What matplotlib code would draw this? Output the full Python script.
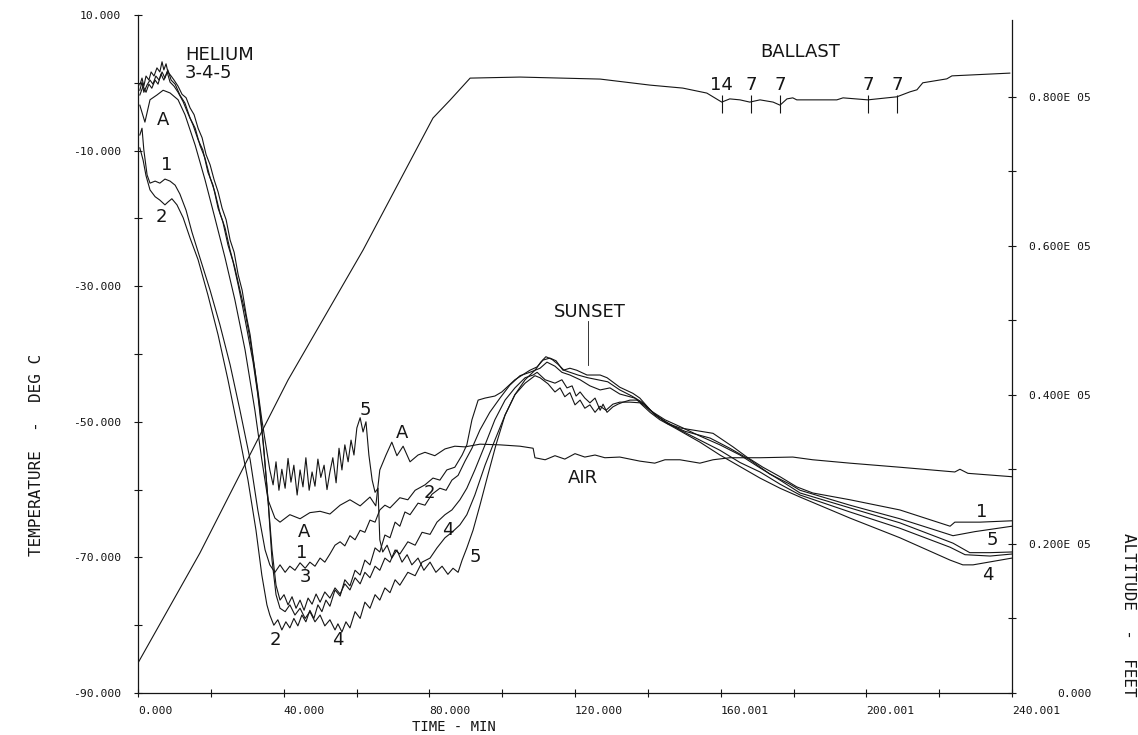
import numpy as np
import matplotlib.pyplot as plt
from matplotlib.transforms import ScaledTranslation

# (time min, altitude ft)
altitude = [(0.0, 4030), (17.0, 18790), (41.2, 42010), (61.8, 59450), (81.0, 77170),
            (85.7, 79580), (91.2, 82530), (104.9, 82670), (126.9, 82400), (140.6, 81590),
            (149.6, 81190), (156.2, 80520), (160.3, 79310), (162.5, 79740), (165.3, 79610),
            (168.0, 79310), (170.8, 79610), (174.4, 79310), (176.3, 78900), (178.2, 79740),
            (179.8, 79880), (180.9, 79610), (191.9, 79610), (193.6, 79880), (200.4, 79610),
            (208.4, 80020), (212.0, 80690), (213.9, 80960), (215.5, 81900), (222.1, 82430),
            (223.5, 82830), (239.4, 83200)]

# (time min, temperature deg C)
air = [(0.5, -3.3), (1.9, -5.8), (3.3, -2.5), (5.2, -1.8), (6.9, -1.1), (8.8, -1.5), (11.0, -2.5),
       (12.9, -4.7), (15.7, -9.2), (18.4, -14.3), (21.1, -19.9), (23.9, -25.8), (26.6, -32.0),
       (29.4, -39.4), (32.1, -48.3), (34.0, -55.6), (35.7, -61.5), (37.6, -64.2), (39.0, -64.8),
       (41.7, -63.7), (44.5, -64.3), (47.2, -63.4), (50.0, -63.2), (52.7, -63.6), (55.5, -62.3),
       (58.2, -61.5), (61.0, -62.4), (63.7, -61.1), (65.3, -62.4), (66.4, -57.1), (68.1, -54.9),
       (69.7, -53.0), (71.1, -55.0), (72.8, -53.6), (74.7, -55.9), (76.9, -54.9), (78.8, -54.5),
       (81.5, -55.0), (84.3, -54.0), (87.0, -53.6), (89.8, -53.7), (93.9, -53.3), (99.4, -53.4),
       (104.9, -53.6), (108.5, -53.9), (109.0, -55.3), (111.8, -55.6), (114.5, -55.0),
       (117.2, -55.5), (120.0, -54.7), (122.7, -55.2), (125.5, -54.9), (128.2, -55.3),
       (132.3, -55.2), (137.8, -55.8), (141.9, -56.1), (144.7, -55.6), (148.8, -55.6),
       (154.3, -56.1), (157.9, -55.6), (162.5, -55.3), (170.8, -55.3), (179.8, -55.2),
       (185.3, -55.6), (195.5, -56.1), (209.2, -56.7), (224.3, -57.4), (225.7, -57.0),
       (227.9, -57.6), (240.0, -58.1)]

helium1 = [(0.5, -7.7), (1.1, -6.7), (1.6, -9.9), (2.5, -13.6), (3.3, -14.8), (4.7, -14.5),
           (6.0, -14.8), (7.4, -14.2), (8.8, -14.5), (10.2, -15.1), (11.5, -16.4), (13.2, -18.8),
           (14.8, -22.0), (17.0, -25.8), (19.8, -30.6), (22.5, -35.7), (25.3, -41.6), (28.0, -48.3),
           (30.8, -55.6), (32.9, -63.0), (34.9, -68.9), (36.2, -71.1), (37.6, -72.2), (39.0, -71.1),
           (40.4, -72.2), (41.7, -71.3), (43.1, -71.9), (44.5, -70.8), (45.9, -71.6), (47.2, -70.7),
           (48.6, -71.3), (50.0, -70.1), (51.3, -70.7), (52.7, -69.5), (54.1, -68.2), (55.5, -67.7),
           (56.8, -68.3), (58.2, -66.8), (59.6, -67.4), (61.0, -66.0), (62.3, -66.3), (63.7, -64.5),
           (65.1, -64.8), (66.4, -63.0), (67.8, -62.3), (69.2, -62.7), (71.9, -61.2), (74.1, -61.5),
           (76.1, -60.1), (78.8, -59.3), (81.0, -58.3), (82.9, -58.6), (84.8, -57.1), (87.0, -56.7),
           (89.0, -54.9), (90.3, -53.4), (91.7, -49.7), (93.4, -46.8), (95.3, -46.5), (98.0, -46.2),
           (99.9, -45.6), (103.5, -43.8), (107.6, -42.4), (109.6, -41.9), (111.2, -40.9),
           (113.1, -40.6), (114.8, -41.0), (116.7, -42.4), (118.6, -42.1), (120.5, -42.4),
           (123.3, -43.1), (126.9, -43.1), (128.8, -43.5), (132.3, -44.9), (135.9, -45.8),
           (137.8, -46.5), (141.4, -48.7), (145.2, -50.2), (148.8, -50.9), (157.9, -51.7),
           (163.4, -53.7), (167.2, -55.2), (171.6, -56.7), (176.3, -58.1), (180.9, -59.6),
           (185.3, -60.5), (195.5, -61.5), (209.2, -63.0), (223.0, -65.4), (224.3, -64.8),
           (231.2, -64.8), (240.0, -64.6)]

helium2 = [(0.5, -9.6), (1.4, -11.4), (2.2, -13.7), (3.3, -15.8), (4.7, -16.8), (6.0, -17.3),
           (7.4, -18.0), (8.2, -17.6), (9.3, -17.1), (10.7, -18.0), (12.4, -19.9), (14.3, -22.9),
           (16.5, -26.1), (19.2, -31.3), (22.0, -37.2), (24.7, -43.8), (27.5, -51.2), (30.2, -58.6),
           (32.4, -66.0), (34.0, -72.6), (35.4, -77.0), (36.2, -78.5), (37.3, -80.0), (38.4, -79.2),
           (39.5, -80.7), (40.6, -79.5), (41.7, -80.4), (42.8, -79.0), (43.9, -80.1), (45.0, -78.5),
           (46.1, -79.5), (47.2, -77.8), (48.3, -79.0), (49.4, -77.0), (50.5, -78.0), (51.6, -76.3),
           (52.7, -77.2), (54.1, -74.8), (55.5, -75.7), (56.8, -73.3), (58.2, -74.2), (59.6, -71.9),
           (61.0, -72.6), (62.3, -70.4), (63.7, -71.1), (65.1, -68.6), (66.4, -69.2), (67.8, -66.7),
           (69.2, -67.1), (70.6, -64.8), (71.9, -65.4), (73.3, -63.3), (74.7, -63.7), (76.9, -62.0),
           (78.8, -62.3), (80.7, -60.7), (82.9, -59.8), (84.6, -60.1), (86.2, -58.6), (87.9, -57.9),
           (89.8, -55.8), (91.7, -53.9), (93.9, -51.2), (96.6, -48.6), (99.4, -46.5), (102.1, -44.6),
           (104.9, -43.2), (107.6, -42.7), (110.4, -42.1), (112.3, -41.2), (114.5, -41.8),
           (116.4, -42.7), (118.6, -43.1), (121.4, -43.8), (124.1, -44.7), (126.9, -45.3),
           (129.6, -45.0), (132.3, -45.9), (136.4, -46.5), (140.6, -48.3), (144.7, -49.7),
           (148.8, -50.7), (154.3, -52.1), (159.8, -53.4), (165.3, -54.9), (170.8, -56.8),
           (176.3, -58.6), (181.8, -60.5), (195.5, -62.7), (209.2, -64.9), (223.8, -67.9),
           (228.4, -69.3), (234.0, -69.3), (240.0, -69.2)]

helium3 = [(0.5, -1.1), (1.1, 0.1), (1.6, -1.4), (2.5, -0.3), (3.3, 0.4), (4.1, -0.2), (4.9, 1.0),
           (5.8, 0.4), (6.6, 1.6), (7.4, 0.7), (8.2, 1.9), (9.1, 0.4), (10.2, -0.2), (11.5, -1.8),
           (12.9, -3.0), (14.3, -5.2), (15.7, -6.7), (17.0, -9.2), (18.4, -11.1), (19.8, -14.0),
           (21.1, -16.1), (22.5, -19.2), (23.9, -21.4), (25.3, -24.7), (26.6, -27.3), (28.0, -30.6),
           (29.4, -33.8), (30.8, -37.9), (32.1, -42.4), (33.5, -48.3), (34.6, -54.2), (35.7, -61.5),
           (36.8, -68.9), (37.9, -74.1), (39.0, -76.3), (40.1, -75.5), (41.2, -77.0), (42.3, -75.8),
           (43.4, -77.5), (44.5, -76.3), (45.6, -77.8), (46.7, -76.0), (47.8, -76.9), (48.9, -75.4),
           (50.0, -76.6), (51.3, -75.1), (52.7, -76.0), (54.1, -74.5), (55.5, -75.4), (56.8, -73.9),
           (58.2, -74.8), (59.6, -73.0), (61.0, -73.9), (62.3, -72.2), (63.7, -73.0), (65.1, -71.3),
           (66.4, -71.9), (67.8, -70.1), (69.2, -70.7), (70.6, -68.9), (71.9, -69.5), (74.1, -67.7),
           (76.1, -68.2), (78.0, -66.3), (80.2, -66.6), (82.1, -64.8), (84.3, -63.7), (86.2, -63.0),
           (88.4, -61.5), (90.3, -59.8), (92.5, -57.1), (95.3, -53.4), (98.0, -49.7), (100.8, -46.8),
           (103.5, -45.0), (106.3, -43.5), (108.5, -43.1), (109.6, -42.7), (111.8, -43.8),
           (114.5, -44.3), (116.4, -43.8), (117.8, -45.0), (119.2, -44.7), (120.3, -46.2),
           (121.4, -45.6), (122.7, -46.5), (124.1, -47.2), (125.5, -46.5), (126.9, -48.3),
           (127.7, -47.4), (128.8, -48.6), (130.4, -47.8), (131.8, -47.4), (133.2, -47.1),
           (135.1, -46.8), (137.0, -46.8), (139.2, -47.5), (142.0, -49.0), (144.7, -49.9),
           (148.8, -51.2), (154.3, -52.7), (159.8, -54.2), (165.3, -56.0), (170.8, -57.4),
           (176.3, -59.2), (181.8, -60.8), (195.5, -63.3), (209.2, -65.7), (223.0, -68.5),
           (227.1, -69.6), (234.0, -69.8), (240.0, -69.5)]

helium4 = [(0.5, -1.8), (1.4, -0.5), (2.2, -1.4), (3.0, -0.2), (3.8, -0.8), (4.7, 0.4), (5.5, -0.2),
           (6.3, 1.3), (7.1, 0.4), (8.0, 1.6), (8.8, 0.1), (9.9, -0.5), (11.0, -1.4), (12.4, -2.8),
           (13.7, -4.5), (15.1, -6.2), (16.5, -8.4), (17.8, -9.9), (19.2, -13.2), (20.6, -15.1),
           (22.0, -18.5), (23.3, -20.5), (24.7, -23.9), (26.1, -26.4), (27.5, -29.8), (28.8, -33.2),
           (30.2, -37.2), (31.6, -41.2), (32.9, -46.0), (34.3, -52.7), (35.7, -61.5), (36.8, -70.4),
           (37.9, -75.5), (39.0, -77.5), (40.4, -78.0), (41.7, -77.0), (43.1, -78.5), (44.5, -77.5),
           (45.9, -79.0), (47.2, -78.0), (48.6, -79.5), (50.0, -78.5), (51.3, -80.1), (52.7, -79.2),
           (54.1, -80.7), (54.9, -79.8), (56.0, -81.0), (57.1, -79.5), (58.2, -80.4), (59.6, -78.0),
           (61.0, -79.0), (62.3, -76.6), (63.7, -77.5), (65.1, -75.5), (66.4, -76.3), (67.8, -74.5),
           (69.2, -75.2), (70.6, -73.3), (71.9, -74.1), (74.1, -72.2), (76.1, -72.7), (78.0, -70.7),
           (80.2, -70.1), (82.1, -68.6), (84.3, -67.1), (86.2, -66.3), (88.4, -65.2), (90.3, -63.7),
           (92.5, -60.8), (95.3, -56.4), (98.0, -52.7), (100.8, -49.0), (103.5, -46.0),
           (106.3, -44.3), (109.0, -43.2), (110.4, -43.5), (112.6, -44.4), (114.5, -45.6),
           (115.9, -45.0), (117.2, -46.3), (118.6, -45.7), (120.0, -47.5), (121.4, -46.8),
           (122.7, -48.0), (124.1, -47.5), (125.5, -48.6), (126.9, -47.7), (128.5, -48.3),
           (130.4, -47.4), (132.3, -47.1), (135.1, -47.1), (137.8, -47.2), (140.6, -48.6),
           (143.3, -49.7), (147.4, -50.9), (154.3, -53.0), (159.8, -54.9), (165.3, -56.6),
           (170.8, -58.3), (176.3, -59.8), (181.8, -61.1), (195.5, -64.2), (209.2, -67.1),
           (223.0, -70.4), (226.5, -71.1), (229.3, -71.1), (240.0, -70.1)]

helium5 = [(0.5, -0.3), (1.1, 0.7), (1.6, -0.5), (2.2, 1.0), (3.0, 0.4), (3.6, 1.6), (4.4, 1.0),
           (5.2, 2.2), (6.0, 1.6), (6.6, 3.1), (7.1, 1.9), (7.7, 2.8), (8.2, 1.6), (9.1, 1.0),
           (9.9, 0.4), (11.0, -0.5), (12.1, -1.7), (13.2, -2.2), (14.3, -3.7), (15.4, -4.7),
           (16.5, -6.7), (17.6, -8.1), (18.7, -10.6), (19.8, -12.1), (20.9, -14.3), (22.0, -16.1),
           (23.1, -18.5), (24.2, -20.2), (25.3, -23.2), (26.4, -25.0), (27.5, -28.3), (28.6, -30.6),
           (29.7, -34.2), (30.8, -37.2), (31.9, -41.6), (32.9, -45.3), (34.0, -49.7), (35.1, -53.4),
           (36.2, -57.1), (37.1, -59.3), (37.9, -55.9), (38.7, -60.1), (39.5, -57.0), (40.4, -59.8),
           (41.2, -55.4), (42.0, -58.9), (42.8, -56.4), (43.7, -60.8), (44.5, -57.1), (45.3, -59.6),
           (46.1, -55.3), (47.0, -60.1), (47.8, -57.4), (48.6, -59.5), (49.4, -55.5), (50.2, -58.2),
           (51.1, -56.4), (51.9, -60.0), (52.7, -57.4), (53.5, -55.3), (54.4, -59.0), (55.2, -53.9),
           (56.0, -57.1), (56.8, -53.4), (57.7, -55.9), (58.5, -52.7), (59.3, -54.9), (60.1, -50.9),
           (61.0, -49.4), (61.8, -51.5), (62.6, -50.0), (63.4, -54.9), (64.3, -58.6), (65.1, -60.4),
           (65.9, -59.8), (66.4, -67.4), (67.2, -69.2), (68.4, -68.2), (69.7, -70.1), (71.1, -68.9),
           (72.5, -70.7), (73.9, -69.6), (75.2, -71.1), (76.9, -70.1), (78.5, -71.9), (80.2, -70.7),
           (81.8, -72.2), (83.5, -71.3), (85.1, -72.5), (86.5, -71.6), (87.9, -72.2), (89.0, -70.4),
           (90.3, -68.6), (92.0, -66.0), (93.9, -62.3), (96.1, -57.8), (98.3, -53.4), (100.8, -49.0),
           (103.5, -46.0), (106.3, -43.8), (109.0, -42.4), (110.6, -41.2), (112.0, -40.4),
           (113.7, -40.8), (115.3, -41.5), (117.0, -42.4), (118.6, -42.7), (120.8, -43.1),
           (123.5, -43.5), (126.3, -43.8), (129.0, -44.1), (132.3, -45.3), (135.6, -46.2),
           (138.4, -47.1), (142.0, -48.9), (145.5, -50.3), (150.2, -51.4), (157.1, -52.4),
           (162.5, -53.9), (168.0, -55.6), (173.5, -57.7), (179.0, -59.2), (181.8, -60.1),
           (195.5, -62.3), (209.2, -64.3), (223.8, -66.8), (229.8, -66.2), (240.0, -65.4)]

ballast_times = [160.3, 168.3, 176.3, 200.4, 208.4]
ballast_labels = ['14', '7', '7', '7', '7']

x_ticks = [0, 40, 80, 120, 160, 200, 240]
x_labels = ['0.000', '40.000', '80.000', '120.000', '160.001', '200.001', '240.001']
t_ticks = [10, -10, -30, -50, -70, -90]
t_labels = ['10.000', '-10.000', '-30.000', '-50.000', '-70.000', '-90.000']
h_ticks = [0, 20000, 40000, 60000, 80000]
h_labels = ['0.000', '0.200E 05', '0.400E 05', '0.600E 05', '0.800E 05']

ink = '#151515'
mono = 'DejaVu Sans Mono'

fig = plt.figure(figsize=(11.38, 7.35), dpi=100)
ax = fig.add_axes([138 / 1138, 42 / 735, 874 / 1138, 678 / 735])
ax2 = ax.twinx()

for series in [air, helium1, helium2, helium3, helium4, helium5]:
    t, temp = np.array(series).T
    ax.plot(t, temp, color=ink, lw=0.8)

t, h = np.array(altitude).T
ax2.plot(t, h, color=ink, lw=0.8)

ax.set_xlim(0, 240)
ax.set_ylim(-90, 10)
ax2.set_ylim(0, 91000)

for s in ['top', 'right']:
    ax.spines[s].set_visible(False)
for s in ['top', 'left', 'bottom']:
    ax2.spines[s].set_visible(False)
ax2.spines['right'].set_bounds(0, 90300)
for a in (ax, ax2):
    for s in a.spines.values():
        s.set_color(ink)
        s.set_linewidth(0.9)

# ticks
ax.set_xticks(np.arange(0, 241, 20))
ax.set_xticklabels([x_labels[x_ticks.index(v)] if v in x_ticks else '' for v in range(0, 241, 20)],
                   ha='left', family=mono, fontsize=8.2, color=ink)
off = ScaledTranslation(0.06, 0, fig.dpi_scale_trans)
for lbl in ax.get_xticklabels():
    lbl.set_transform(lbl.get_transform() + off)
ax.set_yticks(np.arange(-90, 11, 10))
ax.set_yticklabels([t_labels[t_ticks.index(v)] if v in t_ticks else '' for v in range(-90, 11, 10)],
                   family=mono, fontsize=8.2, color=ink)
ax2.set_yticks(np.arange(0, 80001, 10000))
ax2.set_yticklabels([h_labels[h_ticks.index(v)] if v in h_ticks else '' for v in range(0, 80001, 10000)],
                    ha='right', family=mono, fontsize=8.2, color=ink)
ax.tick_params(axis='x', direction='inout', length=6, width=0.8, pad=6, color=ink)
ax.tick_params(axis='y', direction='inout', length=6, width=0.8, pad=9, color=ink)
ax2.tick_params(axis='y', direction='inout', length=6, width=0.8, pad=54, color=ink)

# axis titles
fig.text(454 / 1138, 1 - 727 / 735, 'TIME - MIN', ha='center', va='center',
         family=mono, fontsize=10, color=ink)
fig.text(37 / 1138, 1 - 455 / 735, 'TEMPERATURE  -  DEG C', rotation=90, ha='center', va='center',
         family=mono, fontsize=11.5, color=ink)
fig.text(1128 / 1138, 1 - 615 / 735, 'ALTITUDE  -  FEET', rotation=-90, ha='center', va='center',
         family=mono, fontsize=11.5, color=ink)

# annotations
txt = dict(fontsize=13, color=ink, ha='center', va='center')
ax.text(12.9, 4.1, 'HELIUM', **{**txt, 'ha': 'left'})
ax.text(12.9, 1.4, '3-4-5', **{**txt, 'ha': 'left'})
for tx, ty, s in [(6.9, -5.5, 'A'), (8.0, -12.1, '1'), (6.3, -19.8, '2'),
                  (62.3, -48.3, '5'), (72.5, -51.7, 'A'), (79.9, -60.5, '2'), (85.1, -66.0, '4'),
                  (92.5, -69.9, '5'), (45.6, -66.3, 'A'), (45.0, -69.4, '1'), (45.9, -72.9, '3'),
                  (37.6, -82.2, '2'), (54.9, -82.2, '4'), (231.7, -63.3, '1'), (234.5, -67.4, '5'),
                  (233.4, -72.6, '4'), (124.1, -33.8, 'SUNSET'), (122.2, -58.3, 'AIR')]:
    ax.text(tx, ty, s, **txt)
ax.plot([123.6, 123.6], [-35.2, -41.6], color=ink, lw=0.6)

ax2.text(181.8, 86000, 'BALLAST', **txt)
ax2.vlines(ballast_times, 77900, 80200, color=ink, lw=0.8)
for bt, bl in zip(ballast_times, ballast_labels):
    ax2.text(bt, 81600, bl, **txt)

fig.savefig('out.png', dpi=100)
